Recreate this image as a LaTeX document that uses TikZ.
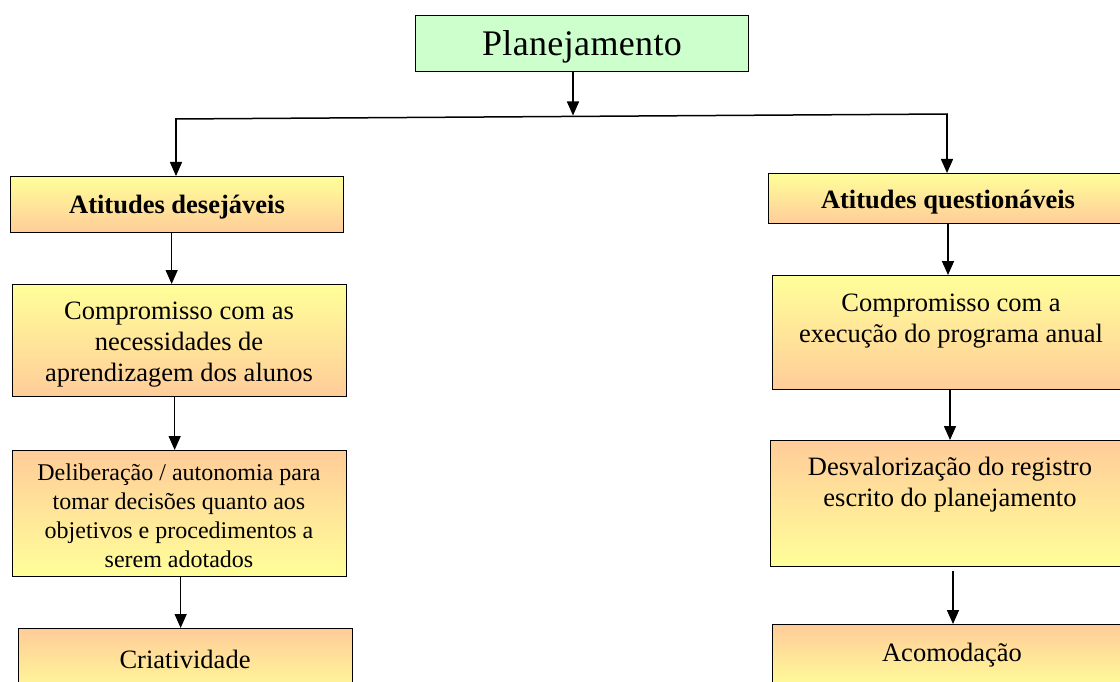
\documentclass[tikz,border=0pt]{standalone}
\usepackage{fontspec}
\setmainfont{Liberation Serif}
\usetikzlibrary{arrows.meta,calc}
\definecolor{pgreen}{HTML}{CCFFCC}
\definecolor{pyellow}{HTML}{FFFF99}
\definecolor{porange}{HTML}{FFCC99}
\tikzset{
  box/.style={draw=black, line width=1.3pt, rectangle, anchor=north west, inner sep=0pt},
  yo/.style={box, top color=pyellow, bottom color=porange},
  oy/.style={box, top color=porange, bottom color=pyellow},
  txt/.style={align=center, inner sep=0pt, font=\fontsize{26.5}{31}\selectfont},
  smalltxt/.style={align=center, inner sep=0pt, font=\fontsize{24}{29}\selectfont},
  headtxt/.style={align=center, inner sep=0pt, font=\fontsize{26.5}{31}\selectfont\bfseries},
  conn/.style={line width=1.5pt, black},
  arr/.style={conn, -{Triangle[length=14pt,width=12pt]}},
}
\begin{document}
\begin{tikzpicture}[x=1pt,y=-1pt]
\useasboundingbox (0,0) rectangle (1120,682);
\clip (0,0) rectangle (1120,682);
\fill[white] (0,0) rectangle (1120,682);
% boxes
\node[box, fill=pgreen, minimum width=333pt, minimum height=56pt] (plan) at (415,15) {};
\node[yo, minimum width=333pt, minimum height=56pt] (ad) at (10,176) {};
\node[yo, minimum width=334pt, minimum height=112pt] (lc) at (12,284) {};
\node[oy, minimum width=334pt, minimum height=126pt] (dl) at (12,450) {};
\node[oy, minimum width=334pt, minimum height=70pt] (cr) at (18,628) {};
\node[yo, minimum width=370pt, minimum height=50pt] (aq) at (768,173) {};
\node[yo, minimum width=370pt, minimum height=114pt] (rc) at (772,275) {};
\node[oy, minimum width=370pt, minimum height=126pt] (ds) at (770,440) {};
\node[oy, minimum width=370pt, minimum height=66pt] (ac) at (772,624) {};
% texts
\node[align=center, inner sep=0pt, font=\fontsize{36}{40}\selectfont\addfontfeature{LetterSpace=1}] (tplan) at (582,47) {Planejamento};
\node[headtxt] (tad) at (177,207) {Atitudes desejáveis};
\node[headtxt] (taq) at (948,202) {Atitudes questionáveis};
\node[txt] (tlc) at (179,345) {Compromisso com as\\necessidades de\\aprendizagem dos alunos};
\node[smalltxt] (tdl) at (179,516) {Deliberação / autonomia para\\tomar decisões quanto aos\\objetivos e procedimentos a\\serem adotados};
\node[txt] (tcr) at (185,659) {Criatividade};
\node[txt] (trc) at (951,321) {Compromisso com a\\execução do programa anual};
\node[txt] (tds) at (950,485) {Desvalorização do registro\\escrito do planejamento};
\node[txt] (tac) at (952,655) {Acomodação};
% connectors
\coordinate (hl) at (176,119);
\coordinate (hr) at (947,114);
\coordinate (split) at (573,116.5);
\coordinate (r1) at (948,0);
\coordinate (r2) at (950,0);
\coordinate (r3) at (953,0);
\draw[arr] (plan.south -| split) -- ([yshift=1pt]split);
\draw[conn] ([xshift=-0.75pt]hl) -- ([xshift=0.75pt]hr);
\draw[arr] (hl) -- (ad.north -| hl);
\draw[arr] (hr) -- (aq.north -| hr);
\draw[arr] ([xshift=-5.5pt]ad.south) -- ([xshift=-5.5pt]ad.south |- lc.north);
\draw[arr] ([xshift=-5pt]lc.south) -- ([xshift=-5pt]lc.south |- dl.north);
\draw[arr] ([xshift=1pt]dl.south) -- ([xshift=1pt]dl.south |- cr.north);
\draw[arr] (aq.south -| r1) -- (rc.north -| r1);
\draw[arr] (rc.south -| r2) -- (ds.north -| r2);
\draw[arr] ([yshift=-4pt]ds.south -| r3) -- (ac.north -| r3);
\end{tikzpicture}
\end{document}
